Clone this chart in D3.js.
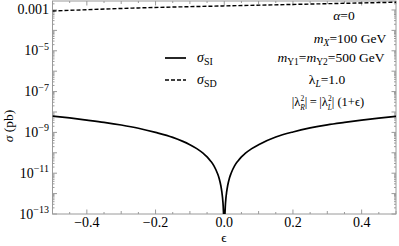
<!DOCTYPE html>
<html><head><meta charset="utf-8">
<script src="https://cdn.jsdelivr.net/npm/d3@7"></script>
<style>
html,body{margin:0;padding:0;background:#fff;}
svg{display:block;}
text{font-family:"Liberation Serif","Times New Roman","DejaVu Serif",serif;fill:#000;}
</style></head>
<body><svg id="c" width="399" height="246"></svg>
<script>
// ---- data ----
const epsSI = [-0.5,-0.45,-0.4,-0.35,-0.3,-0.25,-0.2,-0.15,-0.1,-0.08,-0.06,-0.05,-0.04,-0.03,-0.02,-0.015,-0.01,-0.007,-0.005,-0.003,-0.002,0,
               0.002,0.003,0.005,0.007,0.01,0.015,0.02,0.03,0.04,0.05,0.06,0.08,0.1,0.15,0.2,0.25,0.3,0.35,0.4,0.45,0.5];
const sigmaSI = [6.3e-9,5.1e-9,4.0e-9,3.1e-9,2.3e-9,1.6e-9,1.0e-9,5.7e-10,2.5e-10,1.6e-10,9.0e-11,6.3e-11,4.0e-11,2.3e-11,1.0e-11,5.7e-12,2.5e-12,1.2e-12,6.3e-13,2.3e-13,1.0e-13,1e-14,
               1.0e-13,2.3e-13,6.3e-13,1.2e-12,2.5e-12,5.7e-12,1.0e-11,2.3e-11,4.0e-11,6.3e-11,9.0e-11,1.6e-10,2.5e-10,5.9e-10,1.05e-9,1.65e-9,2.35e-9,3.1e-9,4.0e-9,5.0e-9,6.1e-9];
const epsSD = [-0.5,-0.25,0,0.25,0.5];
const sigmaSD = [8.9e-4,1.26e-3,1.58e-3,1.95e-3,2.4e-3];
const xTickVals = [-0.4,-0.2,0,0.2,0.4];
const xTickLabels = ["\u22120.4","\u22120.2","0.0","0.2","0.4"];
const yTickExps = [-13,-11,-9,-7,-5,-3];
const yDomain = [1e-13, Math.pow(10,-2.56)];

// ---- layout ----
const L = 52.5, R = 396, T = 1, B = 214;
const svg = d3.select("#c");
const x = d3.scaleLinear().domain([-0.5,0.5]).range([L,R]);
const y = d3.scaleLog().domain(yDomain).range([B,T]);
const frameCol = "#9a9a9a";

svg.append("defs").append("clipPath").attr("id","clip")
  .append("rect").attr("x",L).attr("y",T).attr("width",R-L).attr("height",B-T);

// frame
svg.append("rect").attr("x",L).attr("y",T).attr("width",R-L).attr("height",B-T)
  .attr("fill","none").attr("stroke",frameCol).attr("stroke-width",1);

// x ticks (bottom & top)
const xMinor = d3.range(-0.5,0.5001,0.05).map(v=>+v.toFixed(2));
const gx = svg.append("g");
xMinor.forEach(v=>{
  const isMajor = xTickVals.some(t=>Math.abs(t-v)<1e-9);
  const isTenth = Math.abs((v*10)-Math.round(v*10))<1e-6;
  const len = isMajor ? 4.5 : (isTenth ? 3 : 2);
  gx.append("line").attr("x1",x(v)).attr("x2",x(v)).attr("y1",B).attr("y2",B-len).attr("stroke",frameCol);
  gx.append("line").attr("x1",x(v)).attr("x2",x(v)).attr("y1",T).attr("y2",T+len).attr("stroke",frameCol);
});
xTickVals.forEach((v,i)=>{
  svg.append("text").attr("x",x(v)).attr("y",227).attr("text-anchor","middle")
    .attr("font-size",14).text(xTickLabels[i]);
});

// y ticks (left & right)
const gy = svg.append("g");
for(let e=-13;e<=-3;e++){
  for(let k=1;k<=9;k++){
    const v = k*Math.pow(10,e);
    if(v<yDomain[0]*0.999 || v>yDomain[1]) continue;
    const len = k===1 ? 4.5 : 2;
    gy.append("line").attr("x1",L).attr("x2",L+len).attr("y1",y(v)).attr("y2",y(v)).attr("stroke",frameCol);
    gy.append("line").attr("x1",R).attr("x2",R-len).attr("y1",y(v)).attr("y2",y(v)).attr("stroke",frameCol);
  }
}
yTickExps.forEach(e=>{
  const yy = y(Math.pow(10,e));
  if(e===-3){
    svg.append("text").attr("x",49).attr("y",yy+4.5).attr("text-anchor","end").attr("font-size",14).text("0.001");
  } else {
    const t = svg.append("text").attr("x",49).attr("y",yy+4.5).attr("text-anchor","end").attr("font-size",14);
    t.append("tspan").text("10");
    t.append("tspan").attr("dy",-5.5).attr("font-size",10).text("\u2212"+(-e));
  }
});

// axis labels
svg.append("text").attr("transform","translate(13,126) rotate(-90)").attr("text-anchor","middle")
  .attr("font-size",13.5).html('<tspan font-style="italic">\u03C3</tspan> (pb)');
svg.append("text").attr("x",224).attr("y",242).attr("text-anchor","middle").attr("font-size",13.5).text("\u03F5");

// lines
const plot = svg.append("g").attr("clip-path","url(#clip)");
const line = d3.line().x(d=>x(d[0])).y(d=>y(d[1])).curve(d3.curveMonotoneX);
plot.append("path").datum(epsSI.map((e,i)=>[e,sigmaSI[i]])).attr("d",line)
  .attr("fill","none").attr("stroke","#000").attr("stroke-width",1.7);
plot.append("path").datum(epsSD.map((e,i)=>[e,sigmaSD[i]])).attr("d",line)
  .attr("fill","none").attr("stroke","#000").attr("stroke-width",1.4).attr("stroke-dasharray","4,2");

// legend
svg.append("line").attr("x1",165).attr("x2",186).attr("y1",58).attr("y2",58).attr("stroke","#000").attr("stroke-width",1.7);
svg.append("line").attr("x1",165).attr("x2",186).attr("y1",80).attr("y2",80).attr("stroke","#000").attr("stroke-width",1.4).attr("stroke-dasharray","4,2");
svg.append("text").attr("x",197).attr("y",62).attr("font-size",14)
  .html('<tspan font-style="italic">\u03C3</tspan><tspan dy="3" font-size="10">SI</tspan>');
svg.append("text").attr("x",197).attr("y",84).attr("font-size",14)
  .html('<tspan font-style="italic">\u03C3</tspan><tspan dy="3" font-size="10">SD</tspan>');

// annotations
const ann = [
  {x:344,y:20,h:'<tspan font-style="italic">\u03B1</tspan>=0'},
  {x:350,y:43,h:'<tspan font-style="italic">m</tspan><tspan dy="3" font-size="9.5" font-style="italic">X</tspan><tspan dy="-3">=100 GeV</tspan>'},
  {x:331,y:62,h:'<tspan font-style="italic">m</tspan><tspan dy="3" font-size="9.5">Y1</tspan><tspan dy="-3">=</tspan><tspan font-style="italic">m</tspan><tspan dy="3" font-size="9.5">Y2</tspan><tspan dy="-3">=500 GeV</tspan>'},
  {x:327,y:84,h:'\u03BB<tspan dy="3" font-size="9.5" font-style="italic">L</tspan><tspan dy="-3">=1.0</tspan>'}
];
ann.forEach(a=>{
  svg.append("text").attr("x",a.x).attr("y",a.y).attr("text-anchor","middle").attr("font-size",13.5).html(a.h);
});
// |λR²| = |λL²| (1+ϵ) with stacked super/subscripts
const eq = svg.append("text").attr("x",328).attr("y",106).attr("text-anchor","middle").attr("font-size",12.5)
  .html('|\u03BB<tspan dy="-5.5" font-size="7.5">2</tspan><tspan dx="-4" dy="9" font-size="7.5" font-style="italic">R</tspan><tspan dy="-3.5">|\u2009=\u2009|\u03BB</tspan><tspan dy="-5.5" font-size="7.5">2</tspan><tspan dx="-4" dy="9" font-size="7.5" font-style="italic">L</tspan><tspan dy="-3.5">| (1+\u03F5)</tspan>');
</script></body></html>
